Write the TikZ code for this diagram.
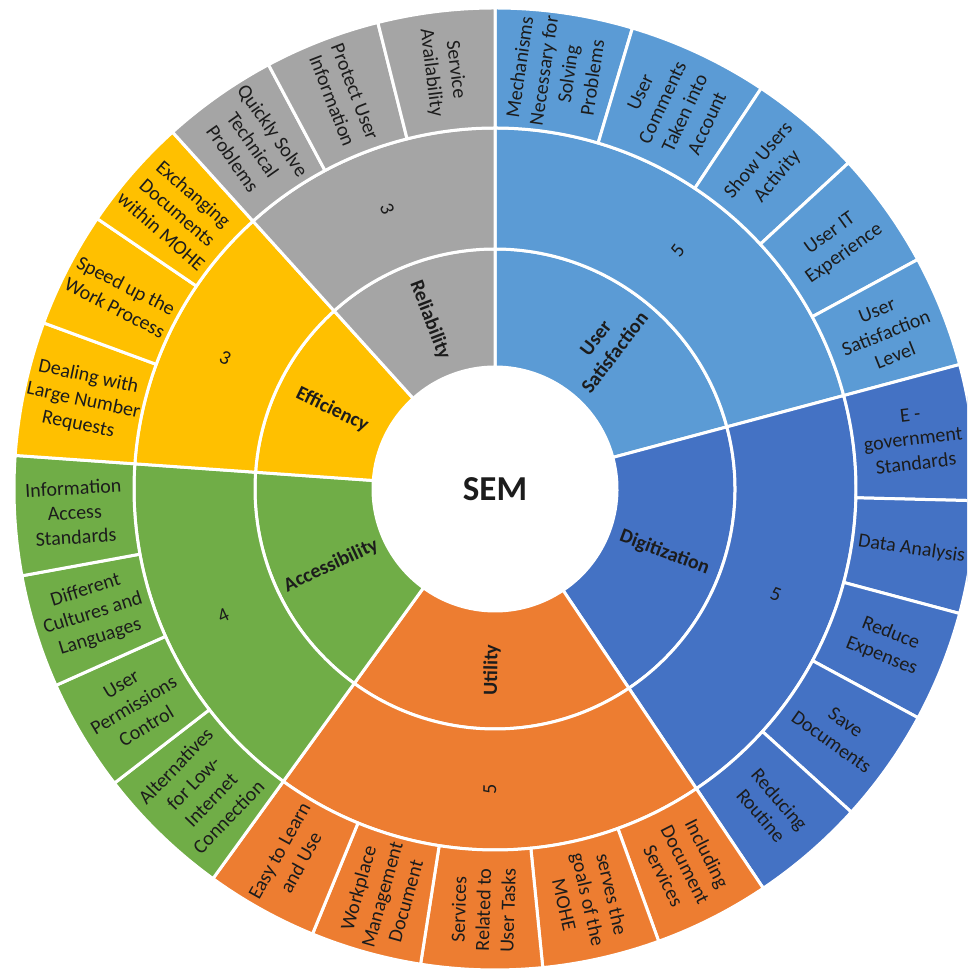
\documentclass[tikz,border=0pt]{standalone}
\usepackage{fontspec}
\setmainfont{Carlito}
\definecolor{cUS}{HTML}{5B9BD5}
\definecolor{cDG}{HTML}{4472C4}
\definecolor{cUT}{HTML}{ED7D31}
\definecolor{cAC}{HTML}{70AD47}
\definecolor{cEF}{HTML}{FFC000}
\definecolor{cRE}{HTML}{A5A5A5}
\definecolor{txt}{HTML}{1C1C1C}
% segment: r_in, r_out, start angle, end angle, colour
\newcommand\sunseg[5]{%
  \filldraw[seg, fill=#5] (#3:#1pt) arc[start angle=#3, end angle=#4, radius=#1pt]
    -- (#4:#2pt) arc[start angle=#4, end angle=#3, radius=#2pt] -- cycle;}
% label: name, radius, angle, style, text
\newcommand\sunlabel[5]{%
  \pgfmathsetmacro\sla{mod(#3+720,360)}%
  \pgfmathsetmacro\slr{and(\sla>90,\sla<270) ? \sla-180 : \sla}%
  \node[#4, rotate=\slr] (#1) at (#3:#2pt) {#5};}
\begin{document}
\begin{tikzpicture}[x=1pt,y=1pt,
  seg/.style={draw=white, line width=3pt, line join=round},
  inlbl/.style={font=\fontsize{20}{24}\selectfont\bfseries, text=txt, align=center, inner sep=0pt},
  midlbl/.style={font=\fontsize{20}{24}\selectfont, text=txt, inner sep=0pt},
  leaflbl/.style={font=\fontsize{20}{24.5}\selectfont, text=txt, align=center, inner sep=0pt}]
\useasboundingbox (0,0) rectangle (967,971);
\clip (0,0) rectangle (967,971);
\fill[white] (0,0) rectangle (967,971);
\begin{scope}[shift={(495,482)}]
% inner ring
\sunseg{122}{240}{15}{90}{cUS}
\sunseg{122}{240}{-56.1}{15}{cDG}
\sunseg{122}{240}{-125.9}{-56.1}{cUT}
\sunseg{122}{240}{176}{234.1}{cAC}
\sunseg{122}{240}{132.1}{176}{cEF}
\sunseg{122}{240}{90}{132.1}{cRE}
% middle ring
\sunseg{240}{361}{15}{90}{cUS}
\sunseg{240}{361}{-56.1}{15}{cDG}
\sunseg{240}{361}{-125.9}{-56.1}{cUT}
\sunseg{240}{361}{176}{234.1}{cAC}
\sunseg{240}{361}{132.1}{176}{cEF}
\sunseg{240}{361}{90}{132.1}{cRE}
% outer ring: user satisfaction
\sunseg{361}{481}{73.4}{90}{cUS}
\sunseg{361}{481}{56.4}{73.4}{cUS}
\sunseg{361}{481}{42.7}{56.4}{cUS}
\sunseg{361}{481}{28.5}{42.7}{cUS}
\sunseg{361}{481}{15}{28.5}{cUS}
% digitization
\sunseg{361}{481}{-1.4}{15}{cDG}
\sunseg{361}{481}{-15}{-1.4}{cDG}
\sunseg{361}{481}{-28.4}{-15}{cDG}
\sunseg{361}{481}{-42.2}{-28.4}{cDG}
\sunseg{361}{481}{-56.1}{-42.2}{cDG}
% utility
\sunseg{361}{481}{-70.1}{-56.1}{cUT}
\sunseg{361}{481}{-84.3}{-70.1}{cUT}
\sunseg{361}{481}{-98.9}{-84.3}{cUT}
\sunseg{361}{481}{-112.3}{-98.9}{cUT}
\sunseg{361}{481}{-125.9}{-112.3}{cUT}
% accessibility
\sunseg{361}{481}{217.7}{234.1}{cAC}
\sunseg{361}{481}{204.1}{217.7}{cAC}
\sunseg{361}{481}{190.4}{204.1}{cAC}
\sunseg{361}{481}{176}{190.4}{cAC}
% efficiency
\sunseg{361}{481}{159.8}{176}{cEF}
\sunseg{361}{481}{145.8}{159.8}{cEF}
\sunseg{361}{481}{132.1}{145.8}{cEF}
% reliability
\sunseg{361}{481}{118.1}{132.1}{cRE}
\sunseg{361}{481}{104.1}{118.1}{cRE}
\sunseg{361}{481}{90}{104.1}{cRE}
% centre
\node[circle, fill=white, minimum size=244pt, inner sep=0pt,
  font=\fontsize{35}{40}\selectfont\bfseries, text=txt] (sem) at (0,0) {SEM};
% inner labels
\sunlabel{cus}{181}{52.5}{inlbl}{User\\Satisfaction}
\sunlabel{cdg}{181}{-20.55}{inlbl}{Digitization}
\sunlabel{cut}{181}{269}{inlbl}{Utility}
\sunlabel{cac}{181}{205.05}{inlbl}{Accessibility}
\sunlabel{cef}{181}{154.05}{inlbl}{Efficiency}
\sunlabel{cre}{181}{111.05}{inlbl}{Reliability}
% middle labels
\sunlabel{nus}{300}{52.5}{midlbl}{5}
\sunlabel{ndg}{300}{-20.55}{midlbl}{5}
\sunlabel{nut}{300}{269}{midlbl}{5}
\sunlabel{nac}{300}{205.05}{midlbl}{4}
\sunlabel{nef}{300}{154.05}{midlbl}{3}
\sunlabel{nre}{300}{111.05}{midlbl}{3}
% leaf labels
\sunlabel{l1}{421}{81.7}{leaflbl}{Mechanisms\\Necessary for\\Solving\\Problems}
\sunlabel{l2}{421}{64.9}{leaflbl}{User\\Comments\\Taken into\\Account}
\sunlabel{l3}{421}{49.55}{leaflbl}{Show Users\\Activity}
\sunlabel{l4}{421}{35.6}{leaflbl}{User IT\\Experience}
\sunlabel{l5}{421}{21.75}{leaflbl}{User\\Satisfaction\\Level}
\sunlabel{l6}{421}{6.8}{leaflbl}{E -\\government\\Standards}
\sunlabel{l7}{421}{-8.2}{leaflbl}{Data Analysis}
\sunlabel{l8}{421}{-21.7}{leaflbl}{Reduce\\Expenses}
\sunlabel{l9}{421}{-35.3}{leaflbl}{Save\\Documents}
\sunlabel{l10}{421}{-49.15}{leaflbl}{Reducing\\Routine}
\sunlabel{l11}{421}{-63.1}{leaflbl}{Including\\Document\\Services}
\sunlabel{l12}{421}{-77.2}{leaflbl}{serves the\\goals of the\\MOHE}
\sunlabel{l13}{421}{268.4}{leaflbl}{Services\\Related to\\User Tasks}
\sunlabel{l14}{421}{254.4}{leaflbl}{Workplace\\Management\\Document}
\sunlabel{l15}{421}{240.9}{leaflbl}{Easy to Learn\\and Use}
\sunlabel{l16}{421}{225.9}{leaflbl}{Alternatives\\for Low-\\Internet\\Connection}
\sunlabel{l17}{421}{210.9}{leaflbl}{User\\Permissions\\Control}
\sunlabel{l18}{421}{197.25}{leaflbl}{Different\\Cultures and\\Languages}
\sunlabel{l19}{421}{183.2}{leaflbl}{Information\\Access\\Standards}
\sunlabel{l20}{421}{167.9}{leaflbl}{Dealing with\\Large Number\\Requests}
\sunlabel{l21}{421}{152.8}{leaflbl}{Speed up the\\Work Process}
\sunlabel{l22}{421}{138.95}{leaflbl}{Exchanging\\Documents\\within MOHE}
\sunlabel{l23}{421}{125.1}{leaflbl}{Quickly Solve\\Technical\\Problems}
\sunlabel{l24}{421}{111.1}{leaflbl}{Protect User\\Information}
\sunlabel{l25}{421}{97.05}{leaflbl}{Service\\Availability}
\end{scope}
\end{tikzpicture}
\end{document}
